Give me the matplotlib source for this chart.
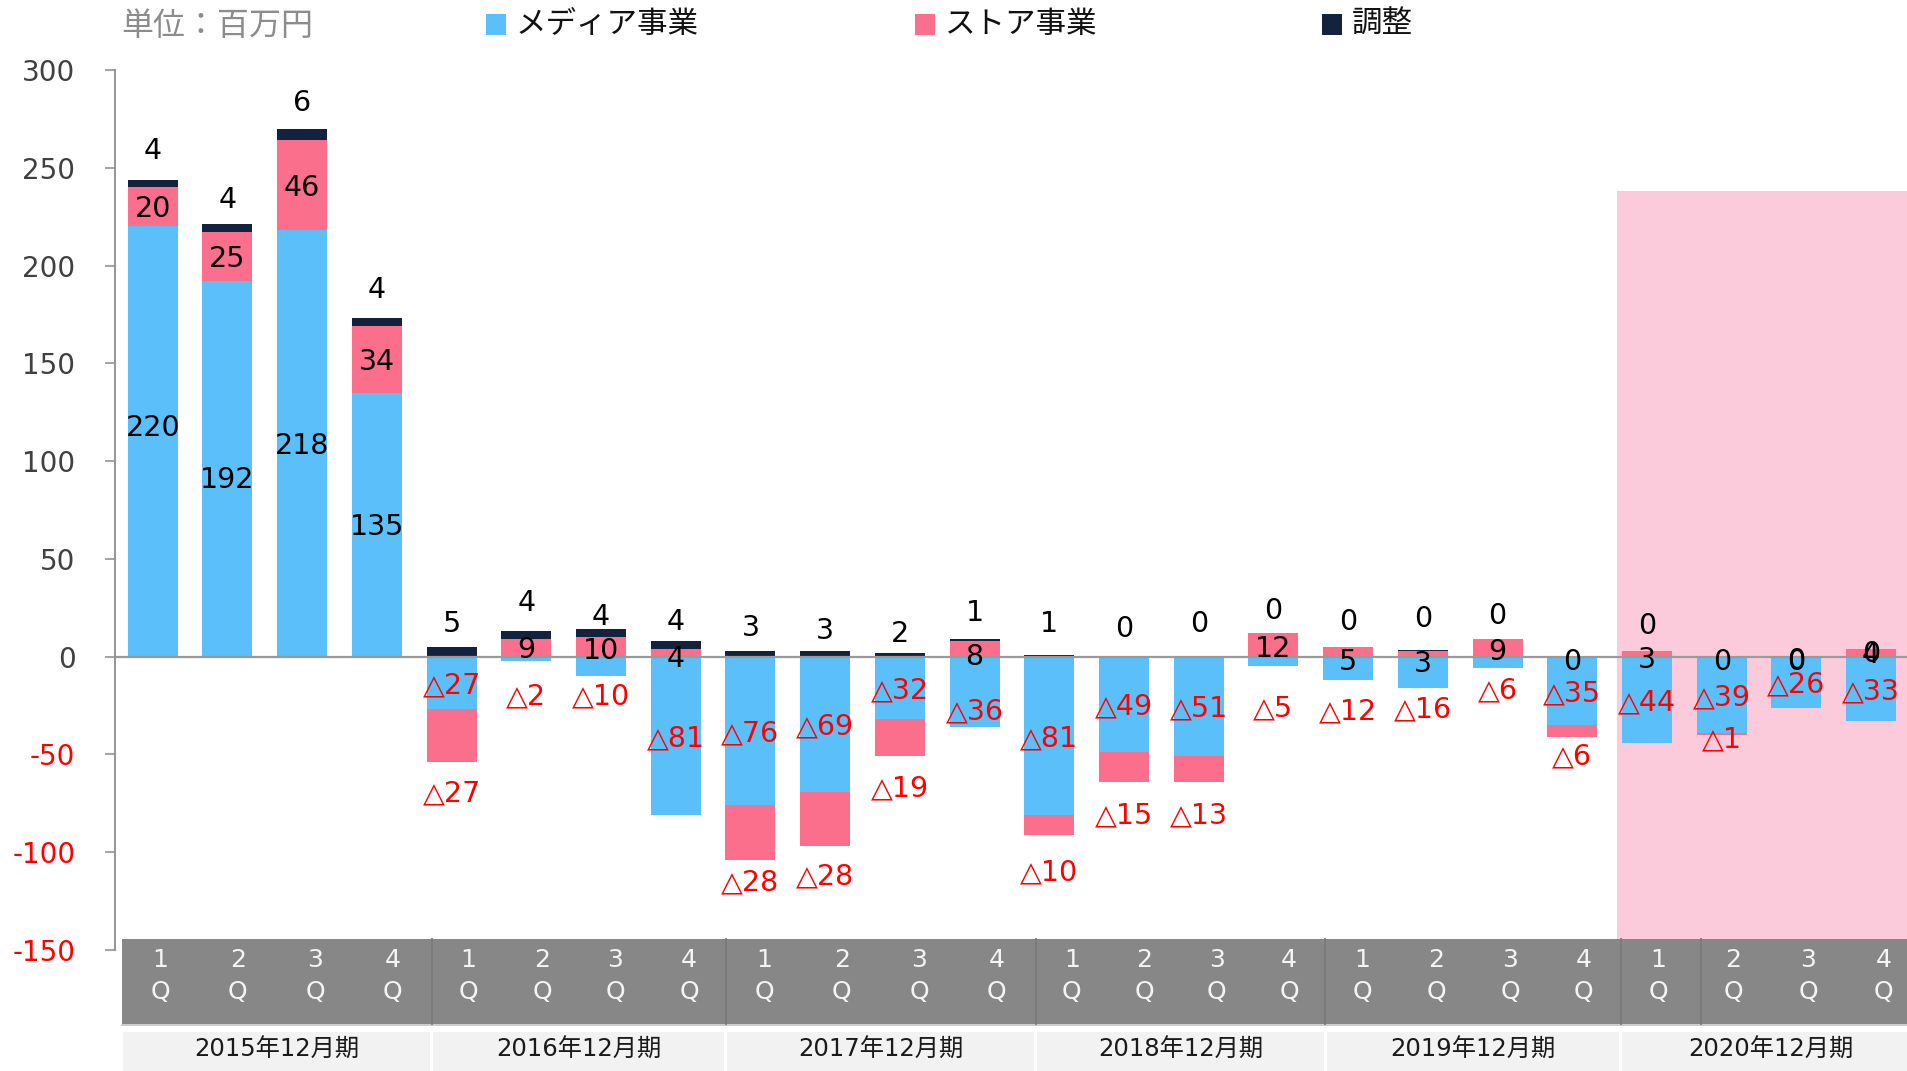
import matplotlib
matplotlib.use("Agg")
import matplotlib.pyplot as plt
from matplotlib.patches import Rectangle
from matplotlib.ticker import FuncFormatter
import numpy as np

plt.rcParams['font.family'] = ['DejaVu Sans', 'Noto Sans CJK JP']
plt.rcParams['axes.unicode_minus'] = False

# ---------------- data ----------------
periods = ['2015年12月期', '2016年12月期', '2017年12月期',
           '2018年12月期', '2019年12月期', '2020年12月期']
quarters = ['1\nQ', '2\nQ', '3\nQ', '4\nQ']
series_names = ['メディア事業', 'ストア事業', '調整']
media = [220, 192, 218, 135, -27, -2, -10, -81, -76, -69, -32, -36,
         -81, -49, -51, -5, -12, -16, -6, -35, -44, -39, -26, -33]
store = [20, 25, 46, 34, -27, 9, 10, 4, -28, -28, -19, 8,
         -10, -15, -13, 12, 5, 3, 9, -6, 3, -1, 0, 4]
adjust = [4, 4, 6, 4, 5, 4, 4, 4, 3, 3, 2, 1,
          1, 0, 0, 0, 0, 0.3, 0, 0, 0, 0, 0, 0]
unit_label = '単位：百万円'
y_ticks = [-150, -100, -50, 0, 50, 100, 150, 200, 250, 300]
highlight_period = '2020年12月期'

# ---------------- layout / style ----------------
W, H = 1907, 1071
colors = ['#5BBFF9', '#FB6E8C', '#13233F']
bar_width = 0.67
highlight_top = 238
label_shift = -1.2
# label nudges (data units)
media_nudge = [8, -4.5, 0, 0, 0, -18, -14, 0, 0, 0, 0, -9,
               0, 0, 0, -23, -21, -18, -13, 0, 0, 0, 0, 0]
store_off = [0, 0, 0, 0, -14.5, 0, -1, -2, -10.5, -14, -15, -3,
             -18, -16, -16, -1, -4, -4, -1, -9, -2, -1, -1, 0]
adj_gap = [16, 13.5, 14.5, 15.5, 13, 15.5, 7.5, 11, 13, 11.5, 11, 14.5,
           17, 15.5, 18, 12.5, 14, 17, 13, -1.3, 14, -1.7, -1.3, -1.4]
group_edges_px = [121.6, 431.7, 725.7, 1035.6, 1325.4, 1620.7, 1921]

fig = plt.figure(figsize=(W / 100, H / 100), dpi=100)
ax = fig.add_axes([115 / W, (H - 950) / H, (W - 115) / W, 880 / H])

n = len(media)
x = np.arange(n)
ax.set_xlim(-0.505, 23.48)
ax.set_ylim(-150, 300)

# highlight region
hl_start = periods.index(highlight_period) * 4 - 0.4
ax.add_patch(Rectangle((hl_start, -150), 30, highlight_top + 150,
                       color='#FBCBDC', zorder=0, lw=0))

# stacked bars (positive and negative stacked separately)
pos = np.zeros(n)
neg = np.zeros(n)
bases = []
for vals, c in zip([media, store, adjust], colors):
    v = np.array(vals, dtype=float)
    b = np.where(v >= 0, pos, neg)
    bases.append(b.copy())
    ax.bar(x, v, width=bar_width, bottom=b, color=c, lw=0, zorder=2)
    pos = pos + np.maximum(v, 0)
    neg = neg + np.minimum(v, 0)

ax.axhline(0, color='#9a9a9a', lw=1.6, zorder=3)


def fmt(v):
    r = int(round(v))
    return ('△' + str(-r)) if r < 0 else str(r)


def col(v):
    return '#FF0000' if int(round(v)) < 0 else '#000000'


LBL = 20.5
for i in range(n):
    m = media[i]
    ax.text(i, m / 2 + media_nudge[i] + label_shift, fmt(m), ha='center',
            va='center', fontsize=LBL, color=col(m), zorder=5)
    s = store[i]
    sb = bases[1][i]
    if s >= 0:
        sy = sb + s / 2 + store_off[i]
    else:
        sy = sb + s + store_off[i]
    ax.text(i, sy + label_shift, fmt(s), ha='center', va='center',
            fontsize=LBL, color=col(s), zorder=5)
    a = adjust[i]
    ax.text(i, pos[i] + adj_gap[i] + label_shift, fmt(a), ha='center',
            va='center', fontsize=LBL, color=col(a), zorder=5)

# axes styling
for sp in ['top', 'right', 'bottom']:
    ax.spines[sp].set_visible(False)
ax.spines['left'].set_color('#8c8c8c')
ax.spines['left'].set_linewidth(1.3)
ax.set_xticks([])
ax.set_yticks(y_ticks)
ax.yaxis.set_major_formatter(FuncFormatter(lambda v, p: str(int(v))))
ax.tick_params(axis='y', direction='out', length=7.5, width=1.1,
               color='#8c8c8c', pad=21, labelsize=20)
for t, v in zip(ax.get_yticklabels(), y_ticks):
    t.set_color('#FF0000' if v < 0 else '#404040')
ax.patch.set_visible(False)

# ---------------- overlay (pixel coords) ----------------
ov = fig.add_axes([0, 0, 1, 1])
ov.set_zorder(10)
ov.patch.set_visible(False)
ov.set_xlim(0, W)
ov.set_ylim(H, 0)
ov.axis('off')

# quarter band
ov.add_patch(Rectangle((group_edges_px[0], 939), W - group_edges_px[0], 85,
                       color='#878787', lw=0))
ov.plot([group_edges_px[0], W], [1024.5, 1024.5], color='#c4c4c4', lw=1.2)
for e in group_edges_px[1:-1]:
    ov.plot([e, e], [939, 1024], color='#7a7a7a', lw=1.3)
ov.plot([1700.7, 1700.7], [939, 1024], color='#7a7a7a', lw=1.3)

for g, per in enumerate(periods):
    l, r = group_edges_px[g], group_edges_px[g + 1]
    w = r - l
    for k, q in enumerate(quarters):
        ov.text(l + (k + 0.5) * w / 4, 976, q, ha='center', va='center',
                fontsize=18, color='#f4f4f4', linespacing=1.4)
    ov.add_patch(Rectangle((l + 1.5, 1032), w - 3, 40, color='#f2f2f2', lw=0))
    ov.text((l + r) / 2, 1050, per, ha='center', va='center',
            fontsize=17.5, color='#1a1a1a')

# legend
leg_sq_x = [486, 914.6, 1322]
for name, c, lx in zip(series_names, colors, leg_sq_x):
    ov.add_patch(Rectangle((lx, 14), 20, 21, color=c, lw=0))
    ov.text(lx + 30, 24.5, name, ha='left', va='center', fontsize=22,
            color='#111111', family=['Noto Sans CJK JP', 'DejaVu Sans'])

ov.text(121.6, 26, unit_label, ha='left', va='center', fontsize=23,
        color='#8c8c8c', family=['Noto Sans CJK JP', 'DejaVu Sans'])

fig.savefig('out.png', dpi=100)
